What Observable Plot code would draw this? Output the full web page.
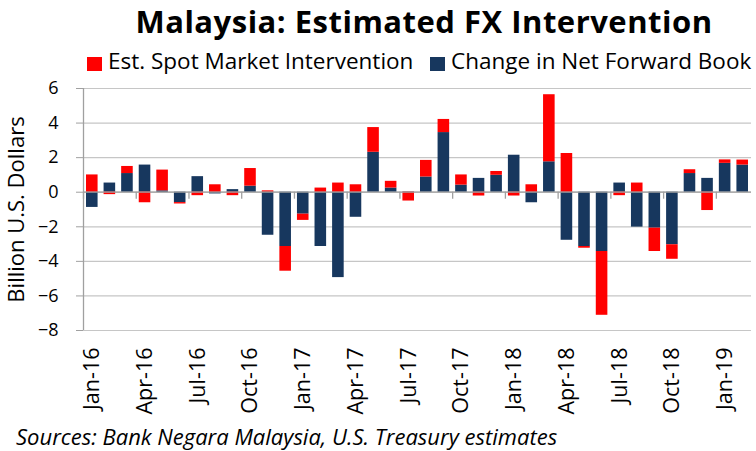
<!DOCTYPE html>
<html>
<head>
<meta charset="utf-8">
<script src="https://cdn.jsdelivr.net/npm/d3@7"></script>
<script src="https://cdn.jsdelivr.net/npm/@observablehq/plot@0.6"></script>
<style>
  body { margin: 0; background: #fff; }
  #wrap { position: relative; width: 756px; height: 451px; overflow: hidden; font-family: "Open Sans", sans-serif; color: #000; }
  #chart { position: absolute; left: 0; top: 0; }
  #title { position: absolute; top: 1px; left: 424px; transform: translateX(-50%); white-space: nowrap; font-weight: bold; font-size: 31px; line-height: 40px; letter-spacing: 0.5px; }
  .item { position: absolute; top: 46px; white-space: nowrap; font-size: 22.5px; line-height: 30px; display: flex; align-items: center; }
  .sw { display: inline-block; width: 15px; height: 14px; margin-right: 6px; position: relative; top: 3px; }
  #caption { position: absolute; top: 421px; left: 16px; white-space: nowrap; font-style: italic; font-size: 22px; line-height: 30px; }
</style>
</head>
<body>
<div id="wrap">
  <div id="chart"></div>
  <div id="title">Malaysia: Estimated FX Intervention</div>
  <div id="legend"></div>
  <div id="caption">Sources: Bank Negara Malaysia, U.S. Treasury estimates</div>
</div>
<script>
const months = ["Jan-16","Feb-16","Mar-16","Apr-16","May-16","Jun-16","Jul-16","Aug-16","Sep-16","Oct-16","Nov-16","Dec-16",
  "Jan-17","Feb-17","Mar-17","Apr-17","May-17","Jun-17","Jul-17","Aug-17","Sep-17","Oct-17","Nov-17","Dec-17",
  "Jan-18","Feb-18","Mar-18","Apr-18","May-18","Jun-18","Jul-18","Aug-18","Sep-18","Oct-18","Nov-18","Dec-18",
  "Jan-19","Feb-19"];
const forwardBook = [-0.88, 0.53, 1.08, 1.57, 0.08, -0.60, 0.90, -0.10, 0.15, 0.35, -2.49, -3.14,
  -1.27, -3.14, -4.94, -1.45, 2.31, 0.24, 0.02, 0.88, 3.45, 0.41, 0.80, 0.98,
  2.14, -0.61, 1.76, -2.78, -3.14, -3.43, 0.53, -2.02, -2.08, -3.04, 1.08, 0.80,
  1.67, 1.57];
const spotMarket = [1.00, -0.14, 0.41, -0.61, 1.20, -0.08, -0.20, 0.43, -0.20, 1.02, 0.08, -1.43,
  -0.36, 0.24, 0.53, 0.43, 1.43, 0.39, -0.51, 0.96, 0.76, 0.59, -0.22, 0.22,
  -0.22, 0.43, 3.88, 2.24, -0.10, -3.69, -0.20, 0.53, -1.35, -0.84, 0.22, -1.06,
  0.20, 0.29];
const seriesNames = ["Change in Net Forward Book", "Est. Spot Market Intervention"];
const seriesColors = ["#17375E", "#FF0000"];
const yTicks = [6, 4, 2, 0, -2, -4, -6, -8];
const tickLabels = ["Jan-16","Apr-16","Jul-16","Oct-16","Jan-17","Apr-17","Jul-17","Oct-17","Jan-18","Apr-18","Jul-18","Oct-18","Jan-19"];

// table: navy series first so it stacks next to zero
const rows = [];
seriesNames.forEach((s, k) => {
  const vals = k === 0 ? forwardBook : spotMarket;
  vals.forEach((v, i) => rows.push({i, month: months[i], series: s, value: v}));
});
const labelPos = tickLabels.map(l => months.indexOf(l));

const chart = Plot.plot({
  width: 756,
  height: 451,
  marginLeft: 83,
  marginRight: 5,
  marginTop: 88,
  marginBottom: 121,
  style: {fontFamily: "'Open Sans', sans-serif", background: "#fff", overflow: "visible"},
  x: {domain: [0, months.length], axis: null},
  y: {domain: [-8, 6]},
  color: {domain: seriesNames, range: seriesColors},
  marks: [
    Plot.gridY(yTicks, {stroke: "#c6c6c6", strokeOpacity: 1, strokeWidth: 1.2}),
    Plot.rectY(rows, Plot.stackY({
      x1: "i", x2: d => d.i + 1, y: "value", z: "series", fill: "series",
      insetLeft: 3, insetRight: 3
    })),
    Plot.ruleY([0], {stroke: "#a0a0a0", strokeWidth: 1.3}),
    Plot.ruleX(labelPos, {x: d => d, y1: 0, y2: 0, insetBottom: -7, stroke: "#a0a0a0", strokeWidth: 1.3}),
    Plot.ruleX([0], {stroke: "#a0a0a0", strokeWidth: 1.3}),
    Plot.axisY(yTicks, {
      tickSize: 7, tickPadding: 18, stroke: "#a0a0a0", fill: "#000", fontSize: 18,
      label: "Billion U.S. Dollars", labelAnchor: "center", labelArrow: "none", labelOffset: 75
    }),
    Plot.axisX(labelPos.map(p => p + 0.5), {
      anchor: "bottom", tickSize: 0, tickPadding: 17, tickRotate: -90, fontSize: 21.5,
      tickFormat: v => months[Math.floor(v)], fill: "#000", label: null
    })
  ]
});
document.getElementById("chart").appendChild(chart);
// axis title font size
chart.querySelectorAll("g[aria-label='y-axis label'] text").forEach(t => t.setAttribute("font-size", 22));

// legend in the reference's order, swatches at the reference's positions
const legend = document.getElementById("legend");
const legendLeft = [430, 87];
[1, 0].forEach(k => {
  const item = document.createElement("span");
  item.className = "item";
  item.style.left = legendLeft[k] + "px";
  const sw = document.createElement("span");
  sw.className = "sw";
  sw.style.background = seriesColors[k];
  item.appendChild(sw);
  item.appendChild(document.createTextNode(seriesNames[k]));
  legend.appendChild(item);
});
</script>
</body>
</html>
